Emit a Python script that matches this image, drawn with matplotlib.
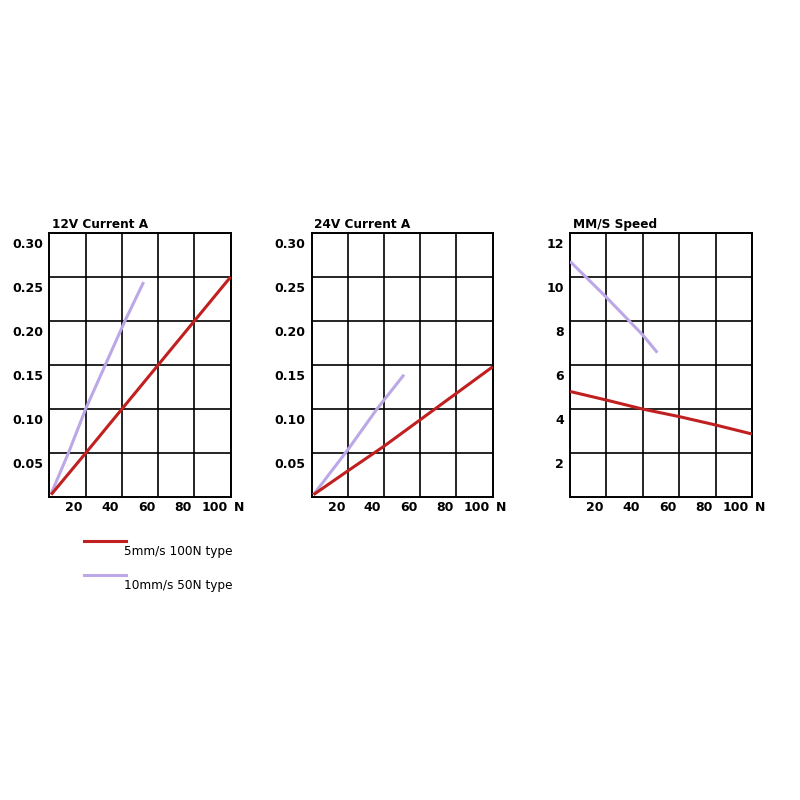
import matplotlib
matplotlib.use("Agg")
import matplotlib.pyplot as plt
import matplotlib.transforms as mtransforms
from matplotlib.lines import Line2D

plt.rcParams['font.family'] = ['DejaVu Sans']

RED = '#c0201f'
PURPLE = '#bca8e6'

# Data
titles = ["12V Current A", "24V Current A", "MM/S Speed"]
x_ticks = [20, 40, 60, 80, 100]
x_ticklabels = ["20", "40", "60", "80", "100"]

yticks_current = [0.05, 0.10, 0.15, 0.20, 0.25, 0.30]
yticklabels_current = ["0.05", "0.10", "0.15", "0.20", "0.25", "0.30"]
yticks_speed = [2, 4, 6, 8, 10, 12]
yticklabels_speed = ["2", "4", "6", "8", "10", "12"]

# 12V current
red12_x = [1, 20, 40, 60, 80, 100]
red12_y = [0.003, 0.05, 0.10, 0.15, 0.20, 0.25]
pur12_x = [1, 10.5, 20, 41.7, 52]
pur12_y = [0.004, 0.05, 0.10, 0.20, 0.244]

# 24V current
red24_x = [1, 20, 40, 60, 80, 100]
red24_y = [0.003, 0.030, 0.058, 0.088, 0.118, 0.148]
pur24_x = [1, 20, 36, 51]
pur24_y = [0.003, 0.054, 0.10, 0.139]

# Speed
reds_x = [0, 20, 40, 60, 80, 100]
reds_y = [4.8, 4.41, 4.0, 3.66, 3.28, 2.87]
purs_x = [0, 20, 40, 48]
purs_y = [10.7, 9.07, 7.36, 6.56]

legend_labels = ["5mm/s 100N type", "10mm/s 50N type"]

fig = plt.figure(figsize=(8, 8), dpi=100)
fig.patch.set_facecolor('white')

lefts = [49.3 / 800, 311.7 / 800, 570 / 800]
widths = [181.4 / 800, 181 / 800, 182 / 800]
bottom = 1 - 497.3 / 800
height = (497.3 - 232.7) / 800

series = [
    (red12_x, red12_y, pur12_x, pur12_y, (0, 0.30), yticks_current, yticklabels_current),
    (red24_x, red24_y, pur24_x, pur24_y, (0, 0.30), yticks_current, yticklabels_current),
    (reds_x, reds_y, purs_x, purs_y, (0, 12), yticks_speed, yticklabels_speed),
]

for i, (rx, ry, px, py, ylim, yt, ytl) in enumerate(series):
    ax = fig.add_axes([lefts[i], bottom, widths[i], height])
    ax.set_xlim(0, 100)
    ax.set_ylim(*ylim)
    ax.plot(px, py, color=PURPLE, lw=2.2, solid_capstyle='butt', zorder=3)
    ax.plot(rx, ry, color=RED, lw=2.2, solid_capstyle='butt', zorder=4)
    ax.set_xticks(x_ticks)
    ax.set_xticklabels(x_ticklabels, fontsize=9, fontweight='bold')
    ax.set_yticks(yt)
    ax.set_yticklabels(ytl, fontsize=9, fontweight='bold')
    ax.tick_params(length=0, pad=3)
    ax.grid(True, color='black', lw=1.2, zorder=1)
    ax.set_axisbelow(True)
    for s in ax.spines.values():
        s.set_color('black')
        s.set_linewidth(1.4)
    offx = mtransforms.ScaledTranslation(-2.0 / 72, 0, fig.dpi_scale_trans)
    for lab in ax.get_xticklabels():
        lab.set_horizontalalignment('right')
        lab.set_transform(lab.get_transform() + offx)
    offy = mtransforms.ScaledTranslation(-1.5 / 72, -7.2 / 72, fig.dpi_scale_trans)
    for lab in ax.get_yticklabels():
        lab.set_transform(lab.get_transform() + offy)
    ax.text(1.0, 0, "N", transform=ax.transAxes + mtransforms.ScaledTranslation(2 / 72, -2.6 / 72, fig.dpi_scale_trans),
            ha='left', va='top', fontsize=9, fontweight='bold')
    ax.text(0.015, 1.005, titles[i], transform=ax.transAxes, ha='left', va='bottom',
            fontsize=8.7, fontweight='bold')

# Legend
lax = fig.add_axes([0, 0, 1, 1], facecolor='none')
lax.set_xlim(0, 800)
lax.set_ylim(800, 0)
lax.axis('off')
lax.add_line(Line2D([84, 126], [541, 541], color=RED, lw=2.2))
lax.add_line(Line2D([84, 126], [575, 575], color=PURPLE, lw=2.2))
lax.text(124, 551, legend_labels[0], fontsize=8.7, va='center', ha='left')
lax.text(124, 585, legend_labels[1], fontsize=8.7, va='center', ha='left')

fig.savefig("out.png", dpi=100, facecolor='white')
